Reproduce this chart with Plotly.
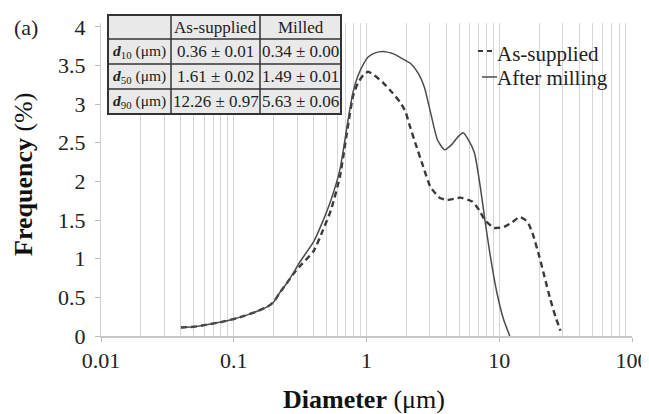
import plotly.graph_objects as go

# ---------------- data ----------------
diam_supplied = [0.04, 0.05, 0.06, 0.08, 0.1, 0.12, 0.15, 0.18, 0.2, 0.22, 0.25, 0.28, 0.31, 0.4,
                 0.47, 0.54, 0.63, 0.73, 0.79, 0.86, 0.95, 1.03, 1.15, 1.33, 1.58, 1.8, 1.97, 2.1,
                 2.35, 2.64, 3.03, 3.55, 4.07, 5.09, 6.26, 7.06, 7.8, 9.14, 10.8, 12.5, 14.2, 16.3,
                 17.8, 20.1, 21.9, 24.3, 26.5, 28.9]
freq_supplied = [0.11, 0.12, 0.14, 0.18, 0.22, 0.26, 0.32, 0.38, 0.44, 0.55, 0.68, 0.8, 0.89, 1.1,
                 1.37, 1.63, 2.06, 2.75, 3.1, 3.27, 3.38, 3.42, 3.37, 3.28, 3.14, 3.02, 2.9, 2.74,
                 2.48, 2.22, 1.93, 1.79, 1.76, 1.79, 1.74, 1.63, 1.5, 1.4, 1.41, 1.47, 1.54, 1.48,
                 1.33, 1.02, 0.77, 0.47, 0.25, 0.07]

diam_milled = [0.04, 0.05, 0.06, 0.08, 0.1, 0.12, 0.15, 0.18, 0.2, 0.22, 0.25, 0.28, 0.31, 0.4,
               0.47, 0.54, 0.63, 0.73, 0.79, 0.86, 0.95, 1.03, 1.15, 1.33, 1.6, 1.9, 2.17, 2.45,
               2.73, 3.03, 3.42, 3.87, 4.4, 4.9, 5.36, 5.8, 6.5, 7.2, 7.8, 8.5, 9.6, 10.8, 12.0]
freq_milled = [0.11, 0.12, 0.14, 0.18, 0.22, 0.26, 0.32, 0.38, 0.44, 0.55, 0.68, 0.81, 0.94, 1.22,
               1.49, 1.76, 2.15, 2.82, 3.15, 3.36, 3.52, 3.61, 3.66, 3.68, 3.65, 3.58, 3.52, 3.4,
               3.22, 2.9, 2.54, 2.41, 2.48, 2.58, 2.63, 2.55, 2.37, 1.93, 1.5, 1.07, 0.56, 0.21, 0.0]

series_names = ["As-supplied", "After milling"]

x_tick_vals = [0.01, 0.1, 1, 10, 100]
x_tick_text = ["0.01", "0.1", "1", "10", "100"]
y_tick_vals = [0, 0.5, 1, 1.5, 2, 2.5, 3, 3.5, 4]
y_tick_text = ["0", "0.5", "1", "1.5", "2", "2.5", "3", "3.5", "4"]

table_header = ["", "As-supplied", "Milled"]
table_rows = ["<b><i>d</i></b><sub>10</sub> (μm)",
              "<b><i>d</i></b><sub>50</sub> (μm)",
              "<b><i>d</i></b><sub>90</sub> (μm)"]
table_supplied = ["0.36 ± 0.01", "1.61 ± 0.02", "12.26 ± 0.97"]
table_milled = ["0.34 ± 0.00", "1.49 ± 0.01", "5.63 ± 0.06"]

# ---------------- layout (screen pixel positions; page body has an 8px margin) ----------------
OFF = 8
W, H = 649, 414
PLOT_L, PLOT_R, PLOT_T, PLOT_B = 101, 632, 23, 336   # plot area on screen
ML = PLOT_L - OFF
MT = PLOT_T - OFF
MR = W - (PLOT_R - OFF)
MB = H - (PLOT_B - OFF)
PW = PLOT_R - PLOT_L
PH = PLOT_B - PLOT_T


def px_x(sx):
    return (sx - PLOT_L) / PW


def px_y(sy):
    return (PLOT_B - sy) / PH


SERIF = "Liberation Serif, Times New Roman, serif"
INK = "#222222"

minor_vals = [k * 10.0 ** n for n in range(-2, 2) for k in range(2, 10)]

fig = go.Figure()
fig.add_trace(go.Scatter(x=diam_supplied, y=freq_supplied, mode="lines", name=series_names[0],
                         line=dict(color="#3a3a3a", width=2.4, dash="6px,4px", shape="spline",
                                   smoothing=0.5)))
fig.add_trace(go.Scatter(x=diam_milled, y=freq_milled, mode="lines", name=series_names[1],
                         line=dict(color="#4c4c4c", width=1.5, shape="spline", smoothing=0.5)))

fig.update_layout(
    template="none",
    width=W, height=H,
    margin=dict(l=ML, r=MR, t=MT, b=MB, autoexpand=False),
    paper_bgcolor="white", plot_bgcolor="white",
    font=dict(family=SERIF, color=INK, size=16),
    showlegend=False,
    xaxis=dict(type="log", range=[-2, 2], tickmode="array", tickvals=x_tick_vals,
               ticktext=x_tick_text, tickfont=dict(size=22, family=SERIF, color=INK),
               showgrid=True, gridcolor="#d6d6d6", gridwidth=1,
               minor=dict(tickmode="array", tickvals=minor_vals, showgrid=True,
                          gridcolor="#d6d6d6", gridwidth=1, ticks=""),
               ticks="outside", ticklen=4, tickcolor="#bbbbbb",
               showline=True, linecolor="#c8c8c8", linewidth=1.5, zeroline=False,
               ticklabelstandoff=0, ticklabeloverflow="allow", automargin=False),
    yaxis=dict(range=[0, 4.05], tickmode="array", tickvals=y_tick_vals, ticktext=y_tick_text,
               tickfont=dict(size=22, family=SERIF, color=INK),
               showgrid=False, zeroline=False, showline=True, linecolor="#d0d0d0",
               linewidth=1, ticks="outside", ticklen=5, tickcolor="#bbbbbb",
               ticklabelstandoff=5, automargin=False),
)

annotations = [
    dict(text="<b>Diameter</b> (μm)", x=px_x(364), y=px_y(399), xref="paper", yref="paper",
         showarrow=False, xanchor="center", yanchor="middle",
         font=dict(size=26, family=SERIF, color="#111")),
    dict(text="<b>Frequency</b> (%)", x=px_x(23), y=px_y(175), xref="paper", yref="paper",
         showarrow=False, xanchor="center", yanchor="middle", textangle=-90,
         font=dict(size=26, family=SERIF, color="#111")),
    dict(text="(a)", x=px_x(26), y=px_y(27), xref="paper", yref="paper",
         showarrow=False, xanchor="center", yanchor="middle",
         font=dict(size=22, family=SERIF, color=INK)),
]
shapes = []

# ---------------- legend (drawn by hand: short keys, tight rows) ----------------
legend_rows = [(series_names[0], 54, 51, 478, 494, dict(color="#3a3a3a", width=2.2, dash="5px,4px")),
               (series_names[1], 78, 77, 482, 497, dict(color="#4c4c4c", width=1.5))]
for name, ty, ky, lx0, lx1, lstyle in legend_rows:
    shapes.append(dict(type="line", xref="paper", yref="paper", x0=px_x(lx0), x1=px_x(lx1),
                       y0=px_y(ky), y1=px_y(ky), line=lstyle))
    annotations.append(dict(text=name, x=px_x(495), y=px_y(ty), xref="paper", yref="paper",
                            showarrow=False, xanchor="left", yanchor="middle",
                            font=dict(size=21, family=SERIF, color=INK)))

# ---------------- inset table ----------------
col_edges = [108, 171, 260, 341]
row_edges = [15, 39, 64, 89, 114]
shapes.append(dict(type="rect", xref="paper", yref="paper",
                   x0=px_x(col_edges[0]), x1=px_x(col_edges[-1]),
                   y0=px_y(row_edges[-1]), y1=px_y(row_edges[0]),
                   fillcolor="#e9e9e9", line=dict(color="#333", width=2), layer="above"))
for cx in col_edges[1:-1]:
    shapes.append(dict(type="line", xref="paper", yref="paper", x0=px_x(cx), x1=px_x(cx),
                       y0=px_y(row_edges[-1]), y1=px_y(row_edges[0]),
                       line=dict(color="#333", width=1.5), layer="above"))
for ry in row_edges[1:-1]:
    shapes.append(dict(type="line", xref="paper", yref="paper", x0=px_x(col_edges[0]),
                       x1=px_x(col_edges[-1]), y0=px_y(ry), y1=px_y(ry),
                       line=dict(color="#333", width=1.5), layer="above"))

table_cells = [table_header] + [[table_rows[i], table_supplied[i], table_milled[i]]
                                for i in range(len(table_rows))]
for r, row in enumerate(table_cells):
    yc = (row_edges[r] + row_edges[r + 1]) / 2
    for c, txt in enumerate(row):
        if not txt:
            continue
        xc = (col_edges[c] + col_edges[c + 1]) / 2
        annotations.append(dict(text=txt, x=px_x(xc), y=px_y(yc), xref="paper", yref="paper",
                                showarrow=False, xanchor="center", yanchor="middle",
                                font=dict(size=15.5 if c == 0 else 17, family=SERIF, color=INK)))

fig.update_layout(shapes=shapes, annotations=annotations)
fig.write_html("out.html")
